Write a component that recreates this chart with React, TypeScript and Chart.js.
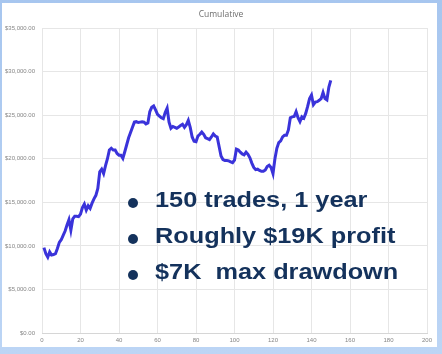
import React, { useEffect, useRef } from "react";
import { Chart, registerables } from "chart.js";

Chart.register(...registerables);

const chartTitle = "Cumulative";

// Cumulative P&L after each trade (trades 1..150)
const cumulative = [
  9800, 9100, 8700, 9300, 8950, 9000, 9100, 9700, 10400, 10700,
  11200, 11700, 12400, 13000, 11800, 13100, 13400, 13400, 13350, 13650,
  14400, 14800, 14100, 14600, 14300, 14900, 15400, 15800, 16600, 18500,
  18800, 18300, 19200, 20000, 21000, 21200, 21000, 21000, 20600, 20400,
  20400, 20050, 20800, 21600, 22400, 23000, 23600, 24200, 24250, 24150,
  24200, 24250, 24200, 24000, 24100, 25400, 25900, 26050, 25600, 25100,
  24900, 24700, 24600, 25300, 25800, 24200, 23500, 23700, 23600, 23500,
  23650, 23800, 23950, 23600, 23900, 24400, 23600, 22500, 22000, 21950,
  22600, 22800, 23050, 22800, 22400, 22300, 22200, 22500, 22850, 22600,
  22500, 21400, 20300, 19900, 19800, 19800, 19750, 19650, 19550, 19850,
  21100, 21000, 20750, 20550, 20450, 20750, 20500, 20100, 19500, 19000,
  18750, 18800, 18650, 18550, 18550, 18700, 19100, 19250, 19000, 18300,
  20000, 21200, 21850, 22050, 22500, 22700, 22700, 23300, 24700, 24800,
  24850, 25400, 24700, 24250, 24800, 24650, 25200, 26000, 26900, 27300,
  26200, 26500, 26550, 26700, 26900, 27600, 26900, 26750, 28200, 29000,
];

const xMin = 0;
const xMax = 200;
const xStep = 20;
const yMin = 0;
const yMax = 35000;
const yStep = 5000;

const bulletLines = ["150 trades, 1 year", "Roughly $19K profit", "$7K  max drawdown"];

const tickFont = '"Liberation Sans", Arial, sans-serif';

const titlePlugin = {
  id: "cumTitle",
  afterDraw(chart: any) {
    const ctx = chart.ctx;
    ctx.save();
    ctx.font = '8.5px "Open Sans", sans-serif';
    ctx.fillStyle = "#6e6e6e";
    ctx.textAlign = "center";
    ctx.textBaseline = "middle";
    ctx.fillText(chartTitle, chart.width / 2, 14.5);
    ctx.restore();
  },
};

export default function App() {
  const ref = useRef<HTMLCanvasElement | null>(null);

  useEffect(() => {
    if (!ref.current) return;
    const points = cumulative.map((v, i) => ({ x: i + 1, y: v }));
    const chart = new Chart(ref.current, {
      type: "line",
      data: {
        datasets: [
          {
            label: chartTitle,
            data: points,
            borderColor: "#3a33da",
            borderWidth: 3,
            pointRadius: 0,
            tension: 0,
            fill: false,
          },
        ],
      },
      options: {
        animation: false,
        responsive: false,
        layout: { padding: { top: 28, right: 15, left: 0, bottom: 0 } },
        plugins: {
          legend: { display: false },
          tooltip: { enabled: false },
          title: { display: false },
        },
        scales: {
          x: {
            type: "linear",
            min: xMin,
            max: xMax,
            ticks: {
              stepSize: xStep,
              font: { size: 6, family: tickFont },
              color: "#858585",
              padding: 4,
              maxRotation: 0,
            },
            grid: { color: "#e6e6e6", drawTicks: false },
            border: { color: "#d6d6d6" },
            afterFit: (s: any) => {
              s.height = 21;
            },
          },
          y: {
            min: yMin,
            max: yMax,
            ticks: {
              stepSize: yStep,
              font: { size: 6, family: tickFont },
              color: "#858585",
              padding: 7,
              callback: (v: any) =>
                "$" +
                Number(v).toLocaleString("en-US", {
                  minimumFractionDigits: 2,
                  maximumFractionDigits: 2,
                }),
            },
            grid: { color: "#e6e6e6", drawTicks: false },
            border: { display: false },
            afterFit: (s: any) => {
              s.width = 42;
            },
          },
        },
      },
      plugins: [titlePlugin],
    });
    return () => chart.destroy();
  }, []);

  return (
    <div
      style={{
        position: "fixed",
        left: 0,
        top: 0,
        width: 442,
        height: 354,
        background: "linear-gradient(180deg, #a7c6ef 0%, #bcd5f5 100%)",
        overflow: "hidden",
      }}
    >
      <div
        style={{
          position: "absolute",
          left: 2,
          top: 3,
          width: 435,
          height: 344,
          background: "#ffffff",
        }}
      />
      <canvas
        ref={ref}
        width={442}
        height={354}
        style={{ position: "absolute", left: 0, top: 0, width: 442, height: 354 }}
      />
      {bulletLines.map((t, i) => (
        <React.Fragment key={i}>
          <div
            style={{
              position: "absolute",
              left: 127.5,
              top: 197.5 + i * 36,
              width: 10,
              height: 10,
              borderRadius: "50%",
              background: "#14325c",
            }}
          />
          <div
            style={{
              position: "absolute",
              left: 155,
              top: 188.7 + i * 36,
              fontFamily: '"Liberation Sans", Arial, sans-serif',
              fontWeight: "bold",
              fontSize: 22,
              lineHeight: "22px",
              color: "#14325c",
              whiteSpace: "pre",
              transform: "scaleX(1.15)",
              transformOrigin: "left top",
            }}
          >
            {t}
          </div>
        </React.Fragment>
      ))}
    </div>
  );
}
